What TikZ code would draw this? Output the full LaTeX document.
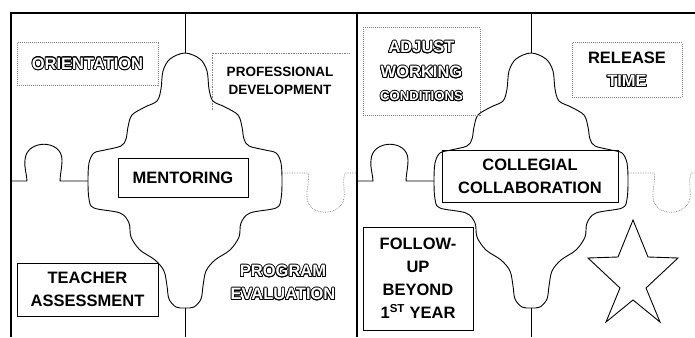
\documentclass[tikz,border=0pt]{standalone}
\usepackage{fontspec}
\setmainfont{Liberation Sans}
\usepackage{contour}
\contourlength{0.8pt}
\contournumber{16}
\newcommand\hollow[1]{{\color{white}\contour{black}{#1}}}
\newcommand\cardfont{\bfseries\fontsize{16.5}{23}\selectfont}
\tikzset{
  frame/.style={line width=1.3pt},
  seam/.style={line width=0.9pt},
  ghost/.style={line width=0.7pt, gray, densely dotted},
  card/.style={draw, line width=1pt, inner sep=0pt, align=center, font=\cardfont},
  faded/.style={card, draw=gray, densely dotted},
  label/.style={inner sep=0pt, align=center, font=\cardfont}
}

\begin{document}
\begin{tikzpicture}[x=1pt,y=-1pt]
  \useasboundingbox (0,0) rectangle (695,337);
  \clip (0,0) rectangle (695,337);
  \foreach \dx in {0,346}{
    \begin{scope}[xshift=\dx]
      \draw[frame] (11,337)--(11,13)--(357,13);
      \draw[seam] (185,13)--(185,53);
      \draw[seam] (185,308)--(185,337);
      \draw[seam] (11,181)--(27,181) .. controls (27,175) and (24,168) .. (25,160)
        .. controls (26,139) and (62,139) .. (62,160)
        .. controls (62,168) and (60,175) .. (60,181) -- (88,181);
      \draw[ghost] (282,173)--(308,173) .. controls (310,180) and (306,190) .. (307,198)
        .. controls (309,217) and (341,217) .. (344,198)
        .. controls (345,188) and (342,180) .. (345,173) -- (357,173);
      \draw[seam, shift={(185,181)}] plot[smooth cycle, tension=0.55] coordinates {
        (0,-128) (15,-122) (22,-110) (24,-92) (28,-80) (40,-74) (53,-66) (57,-54)
        (59,-42) (64,-35) (80,-31) (91,-28) (96,-18) (97,0) (96,18) (91,27)
        (65,32) (56,42) (54,56) (45,69) (30,79) (21,90) (18,105) (16,118) (9,126)
        (0,127) (-9,126) (-16,118) (-18,105) (-21,90) (-30,79) (-45,69) (-54,56)
        (-56,42) (-65,32) (-91,27) (-96,18) (-97,0) (-96,-18) (-91,-28) (-80,-31)
        (-64,-35) (-59,-42) (-57,-54) (-53,-66) (-40,-74) (-28,-80) (-24,-92)
        (-22,-110) (-15,-122)};
    \end{scope}
  }
  \node[faded, minimum width=141, minimum height=42] (orient) at (87.5,64) {\hollow{ORIENTATION}};
  \draw[ghost] (212,110)--(212,53)--(350,53);
  \node[label, font=\bfseries\fontsize{13.5}{18}\selectfont] (profdev) at (280,81) {PROFESSIONAL\\DEVELOPMENT};
  \node[card, minimum width=130, minimum height=39] (mentor) at (183,177.5) {MENTORING};
  \node[card, minimum width=141, minimum height=53] (assess) at (87.5,289.5) {TEACHER\\ASSESSMENT};
  \node[label] (progeval) at (283,283) {\hollow{PROGRAM}\\\hollow{EVALUATION}};
  \node[faded, minimum width=117, minimum height=87] (adjust) at (421.5,71.5)
    {\hollow{ADJUST}\\[2pt]\hollow{WORKING}\\{\fontsize{13.2}{18}\selectfont\hollow{CONDITIONS}}};
  \node[faded, minimum width=110, minimum height=54] (release) at (627,70) {RELEASE\\\hollow{TIME}};
  \node[card, minimum width=176, minimum height=52] (collab) at (530,176) {COLLEGIAL\\COLLABORATION};
  \node[card, minimum width=110, minimum height=103] (follow) at (418,278.5)
    {FOLLOW-\\UP\\BEYOND\\1\textsuperscript{ST} YEAR};
  \draw[seam] (633,220)--(648,257)--(678,258)--(646,288)--(660,322)--(633,300)
    --(606,322)--(620,288)--(588,258)--(618,257)--cycle;
\end{tikzpicture}
\end{document}
